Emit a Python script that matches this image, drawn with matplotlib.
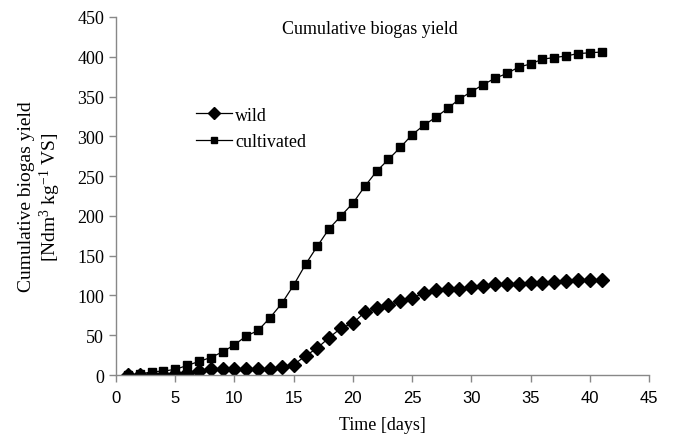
import matplotlib
matplotlib.use("Agg")
import matplotlib.pyplot as plt

plt.rcParams["mathtext.fontset"] = "custom"
plt.rcParams["mathtext.rm"] = "Liberation Serif"
plt.rcParams["mathtext.it"] = "Liberation Serif:italic"

days = list(range(1, 42))
wild = [0, 0, 0, 0, 1, 3, 5, 7, 7, 7, 7, 7, 7, 10, 13, 24, 34, 47, 59, 65,
        79, 84, 88, 93, 97, 103, 107, 108, 108, 110, 112, 114, 114, 115, 116,
        116, 117, 118, 119, 119, 120]
cultivated = [0, 1, 4, 5, 7, 12, 17, 22, 29, 38, 49, 56, 72, 90, 113, 139,
              162, 184, 200, 216, 237, 256, 271, 286, 302, 314, 324, 335, 347,
              356, 365, 373, 379, 387, 391, 397, 399, 401, 404, 405, 406]
x_ticks = [0, 5, 10, 15, 20, 25, 30, 35, 40, 45]
y_ticks = [0, 50, 100, 150, 200, 250, 300, 350, 400, 450]

serif = "Liberation Serif"
fig = plt.figure(figsize=(6.73, 4.39), dpi=100)
ax = fig.add_axes([0.1724, 0.1435, 0.7919, 0.8155])

ax.plot(days, wild, color="black", lw=0.9, marker="D", markersize=7.5,
        label="wild")
ax.plot(days, cultivated, color="black", lw=0.9, marker="s", markersize=5.5,
        label="cultivated")

ax.set_xlim(0, 45)
ax.set_ylim(0, 450)
ax.set_xticks(x_ticks)
ax.set_yticks(y_ticks)
for s in ["top", "right"]:
    ax.spines[s].set_visible(False)
for s in ["left", "bottom"]:
    ax.spines[s].set_color("#888888")
    ax.spines[s].set_linewidth(1.0)
ax.tick_params(axis="both", color="#888888", length=5, width=1.0)
ax.tick_params(axis="x", pad=6)
for lab in ax.get_xticklabels():
    lab.set_fontfamily("Liberation Sans")
    lab.set_fontsize(12)
for lab in ax.get_yticklabels():
    lab.set_fontfamily(serif)
    lab.set_fontsize(13)

ax.set_xlabel("Time [days]", fontfamily=serif, fontsize=13, labelpad=8)
ax.set_ylabel("Cumulative biogas yield\n[Ndm$^3$ kg$^{-1}$ VS]",
              fontfamily=serif, fontsize=14, labelpad=10, linespacing=1.15)
ax.text(0.477, 0.993, "Cumulative biogas yield", transform=ax.transAxes,
        ha="center", va="top", fontfamily=serif, fontsize=13)

leg = ax.legend(loc="upper left", bbox_to_anchor=(0.137, 0.77), frameon=False,
                prop={"family": serif, "size": 13}, handlelength=2.0,
                handletextpad=0.15, labelspacing=0.55, borderaxespad=0,
                markerscale=0.75)

fig.savefig("out.png", dpi=100)
